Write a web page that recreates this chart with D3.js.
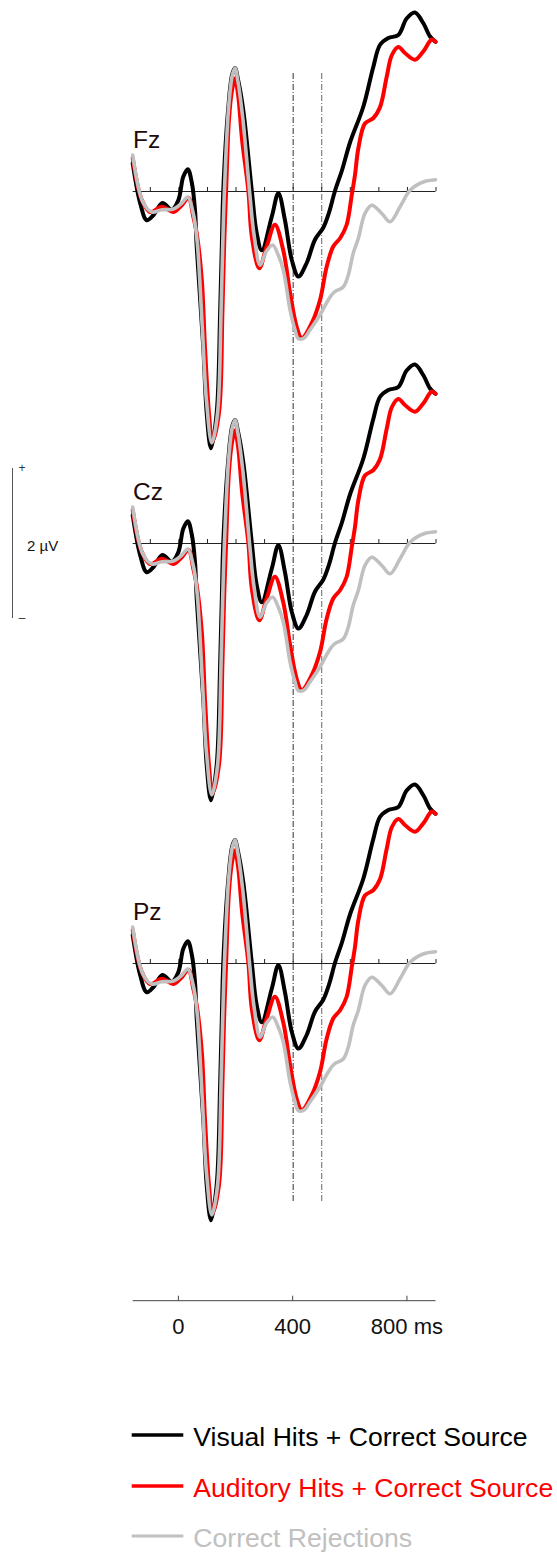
<!DOCTYPE html>
<html>
<head>
<meta charset="utf-8">
<script src="https://cdn.jsdelivr.net/npm/d3@7"></script>
<style>
  body { margin: 0; background: #fff; }
  text { font-family: "Liberation Sans", Arial, sans-serif; }
</style>
</head>
<body>
<script>
// channels (same grand averages drawn in each panel)
const channels = ['Fz', 'Cz', 'Pz']

// [time in ms, amplitude in microvolts]
const visualHits = [
  [-160, 0.37], [-134, -0.16], [-111, -0.39], [-87, -0.32], [-56, -0.16], [-23, -0.25],
  [0, -0.12], [17, 0.19], [33, 0.29], [47, 0.11], [58, -0.25], [64, -0.74], [87, -2.08],
  [99, -2.96], [114, -3.43], [134, -2.96], [146, -1.63], [152, -0.74], [157, 0],
  [174, 1.08], [188, 1.55], [198, 1.64], [209, 1.48], [227, 1.08], [257, 0], [274, -0.56],
  [292, -0.79], [327, -0.34], [350, -0.03], [373, -0.39], [397, -0.92], [420, -1.14],
  [449, -0.96], [478, -0.65], [507, -0.49], [527, -0.29], [548, 0], [573, 0.28],
  [601, 0.65], [647, 1.12], [682, 1.65], [706, 1.95], [735, 2.04], [770, 2.08],
  [799, 2.3], [828, 2.38], [857, 2.24], [881, 2.06], [900, 1.99]
]

const auditoryHits = [
  [-160, 0.44], [-128, -0.12], [-99, -0.28], [-58, -0.21], [-18, -0.28], [12, -0.19],
  [35, -0.09], [52, -0.34], [64, -0.56], [82, -1.19], [93, -2.08], [107, -2.96],
  [119, -3.34], [142, -2.96], [154, -1.63], [160, -0.74], [167, 0], [177, 0.95],
  [188, 1.35], [198, 1.5], [209, 1.28], [223, 0.68], [245, 0], [257, -0.61], [283, -1.03],
  [309, -0.74], [338, -0.45], [367, -0.79], [391, -1.36], [414, -1.81], [432, -1.96],
  [467, -1.76], [496, -1.45], [519, -1.01], [542, -0.74], [566, -0.63], [589, -0.45],
  [607, -0.05], [618, 0.21], [630, 0.57], [653, 0.9], [682, 0.97], [706, 1.12],
  [729, 1.52], [747, 1.81], [770, 1.92], [793, 1.84], [828, 1.75], [857, 1.86],
  [887, 2.02], [900, 1.99]
]

const correctRejections = [
  [-160, 0.48], [-123, -0.16], [-93, -0.28], [-58, -0.25], [-18, -0.24], [12, -0.16],
  [33, -0.08], [52, -0.3], [65, -0.65], [84, -1.85], [98, -2.79], [117, -3.36],
  [137, -2.96], [149, -1.63], [155, -0.74], [161, 0], [175, 1.08], [188, 1.53],
  [198, 1.64], [209, 1.45], [226, 0.95], [249, 0], [265, -0.59], [286, -0.99],
  [307, -0.81], [330, -0.72], [349, -0.85], [367, -1.05], [391, -1.59], [408, -1.85],
  [420, -1.97], [440, -1.96], [461, -1.85], [496, -1.65], [525, -1.45], [545, -1.35],
  [577, -1.28], [594, -1.13], [612, -0.83], [630, -0.63], [653, -0.3], [677, -0.19],
  [712, -0.3], [741, -0.41], [776, -0.21], [811, 0.01], [857, 0.12], [900, 0.15]
]

const seriesNames = ['Visual Hits + Correct Source', 'Auditory Hits + Correct Source', 'Correct Rejections']
const seriesColors = ['#000000', '#ff0000', '#c0c0c0']
const seriesData = [visualHits, auditoryHits, correctRejections]

const panelTicks = d3.range(-100, 901, 100)
const axisTicks = [0, 400, 800]
const axisTickLabels = ['0', '400', '800 ms']
const markerTimes = [400, 500]
const scaleBarUv = 2

const w = 557
const h = 1560
const baselines = [191, 543, 963]
const pxPerUv = 75

const svg = d3.select('body')
  .append('svg')
  .attr('width', w)
  .attr('height', h)

const xScale = d3.scaleLinear()
  .domain([-160, 900])
  .range([132.7, 435.5])

// one y scale per panel, zero sitting on that panel's baseline
const yScales = baselines.map(b => d3.scaleLinear()
  .domain([-1, 1])
  .range([b + pxPerUv, b - pxPerUv]))

// dash-dot markers at 400 and 500 ms
svg.selectAll('line.marker')
  .data(markerTimes)
  .enter()
  .append('line')
  .attr('class', 'marker')
  .attr('x1', d => xScale(d) + 0.5)
  .attr('x2', d => xScale(d) + 0.5)
  .attr('y1', 73)
  .attr('y2', 1201)
  .attr('stroke', (d, i) => i === 0 ? '#333' : '#666')
  .attr('stroke-width', 1)
  .attr('stroke-dasharray', '6,2,1,2')

const line = d3.line()
  .x(d => xScale(d[0]))
  .curve(d3.curveCatmullRom.alpha(0.5))

channels.forEach((ch, p) => {
  const y = yScales[p]
  const g = svg.append('g')

  // zero line with 100 ms ticks
  g.append('line')
    .attr('x1', xScale(-160)).attr('x2', xScale(900))
    .attr('y1', y(0) + 0.5).attr('y2', y(0) + 0.5)
    .attr('stroke', '#222').attr('stroke-width', 1)

  g.selectAll('line.tick')
    .data(panelTicks)
    .enter()
    .append('line')
    .attr('x1', d => xScale(d) + 0.5).attr('x2', d => xScale(d) + 0.5)
    .attr('y1', y(0)).attr('y2', y(0) - 4)
    .attr('stroke', '#222').attr('stroke-width', 1)

  seriesData.forEach((s, i) => {
    g.append('path')
      .datum(s)
      .attr('d', line.y(d => y(d[1])))
      .attr('fill', 'none')
      .attr('stroke', seriesColors[i])
      .attr('stroke-width', i === 2 ? 3.6 : 4)
      .attr('stroke-linejoin', 'round')
      .attr('stroke-linecap', 'round')
  })

  g.append('text')
    .attr('x', 133)
    .attr('y', y(0) - 43)
    .attr('font-size', 24.5)
    .attr('fill', '#220a0a')
    .text(ch)
})

// microvolt scale bar next to Cz
const yCz = yScales[1]
svg.append('line')
  .attr('x1', 12.5).attr('x2', 12.5)
  .attr('y1', yCz(scaleBarUv / 2)).attr('y2', yCz(-scaleBarUv / 2))
  .attr('stroke', '#555').attr('stroke-width', 1)
svg.append('text')
  .attr('x', 22).attr('y', yCz(scaleBarUv / 2) + 4)
  .attr('font-size', 12).attr('text-anchor', 'middle').attr('fill', '#333')
  .text('+')
svg.append('text')
  .attr('x', 22).attr('y', yCz(-scaleBarUv / 2) + 4)
  .attr('font-size', 12).attr('text-anchor', 'middle').attr('fill', '#333')
  .text('\u2013')
svg.append('text')
  .attr('x', 27).attr('y', yCz(0) + 8)
  .attr('font-size', 15)
  .attr('fill', '#111')
  .text(scaleBarUv + ' \u00b5V')

// time axis at the bottom
const axisY = 1300.7
svg.append('line')
  .attr('x1', xScale(-160)).attr('x2', xScale(900))
  .attr('y1', axisY).attr('y2', axisY)
  .attr('stroke', '#444').attr('stroke-width', 1)

svg.selectAll('line.axtick')
  .data(axisTicks)
  .enter()
  .append('line')
  .attr('x1', d => xScale(d)).attr('x2', d => xScale(d))
  .attr('y1', axisY).attr('y2', axisY - 5)
  .attr('stroke', '#444').attr('stroke-width', 1)

svg.selectAll('text.axlabel')
  .data(axisTicks)
  .enter()
  .append('text')
  .attr('x', d => xScale(d))
  .attr('y', 1334)
  .attr('text-anchor', 'middle')
  .attr('font-size', 22)
  .attr('fill', '#111')
  .text((d, i) => axisTickLabels[i])

// legend
const legendY = [1435, 1486, 1536]
seriesNames.forEach((name, i) => {
  svg.append('line')
    .attr('x1', 131.7).attr('x2', 183.3)
    .attr('y1', legendY[i]).attr('y2', legendY[i])
    .attr('stroke', seriesColors[i])
    .attr('stroke-width', i === 2 ? 3 : 3.5)
  svg.append('text')
    .attr('x', 193.3)
    .attr('y', legendY[i] + 11)
    .attr('font-size', 26.6)
    .attr('fill', seriesColors[i])
    .text(name)
})
</script>
</body>
</html>
